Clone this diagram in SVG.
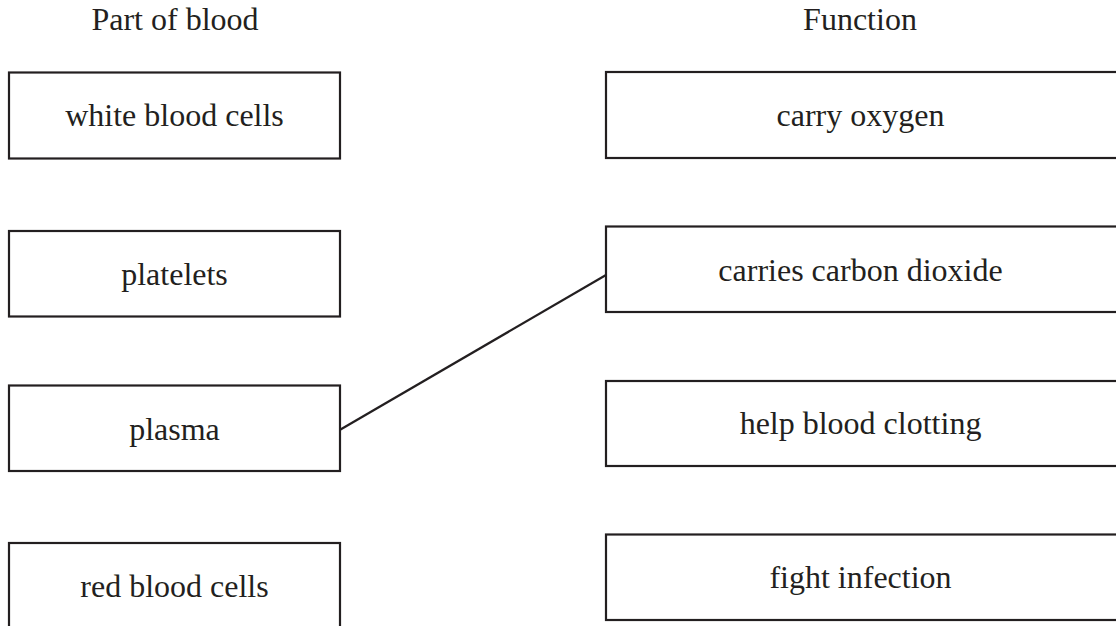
<svg xmlns="http://www.w3.org/2000/svg" width="1116" height="626" viewBox="0 0 1116 626">
<style>
.box{fill:#fff;stroke:#231f20;stroke-width:2.2}
.t{font-family:"Liberation Serif","Times New Roman",serif;font-size:32px;fill:#231f20;text-anchor:middle}
.c{stroke:#231f20;stroke-width:2.2;fill:none}
</style>
<rect width="1116" height="626" fill="#fff"/>
<text class="t" x="175" y="30">Part of blood</text>
<text class="t" x="860" y="30">Function</text>
<g id="white-blood-cells"><rect class="box" x="9" y="72.5" width="331" height="86"/><text class="t" x="174.5" y="126">white blood cells</text></g>
<g id="platelets"><rect class="box" x="9" y="231" width="331" height="85.5"/><text class="t" x="174.5" y="285">platelets</text></g>
<g id="plasma"><rect class="box" x="9" y="385.5" width="331" height="85.5"/><text class="t" x="174.5" y="440">plasma</text></g>
<g id="red-blood-cells"><rect class="box" x="9" y="543" width="331" height="90"/><text class="t" x="174.5" y="597">red blood cells</text></g>
<g id="carry-oxygen"><rect class="box" x="606" y="72" width="520" height="86"/><text class="t" x="860.5" y="126">carry oxygen</text></g>
<g id="carries-carbon-dioxide"><rect class="box" x="606" y="226.5" width="520" height="85.5"/><text class="t" x="860.5" y="281">carries carbon dioxide</text></g>
<g id="help-blood-clotting"><rect class="box" x="606" y="381" width="520" height="85"/><text class="t" x="860.5" y="434">help blood clotting</text></g>
<g id="fight-infection"><rect class="box" x="606" y="534.5" width="520" height="85.5"/><text class="t" x="860.5" y="588">fight infection</text></g>
<g id="connectors"><line class="c" x1="340.5" y1="429.5" x2="606" y2="275"/></g>
</svg>
